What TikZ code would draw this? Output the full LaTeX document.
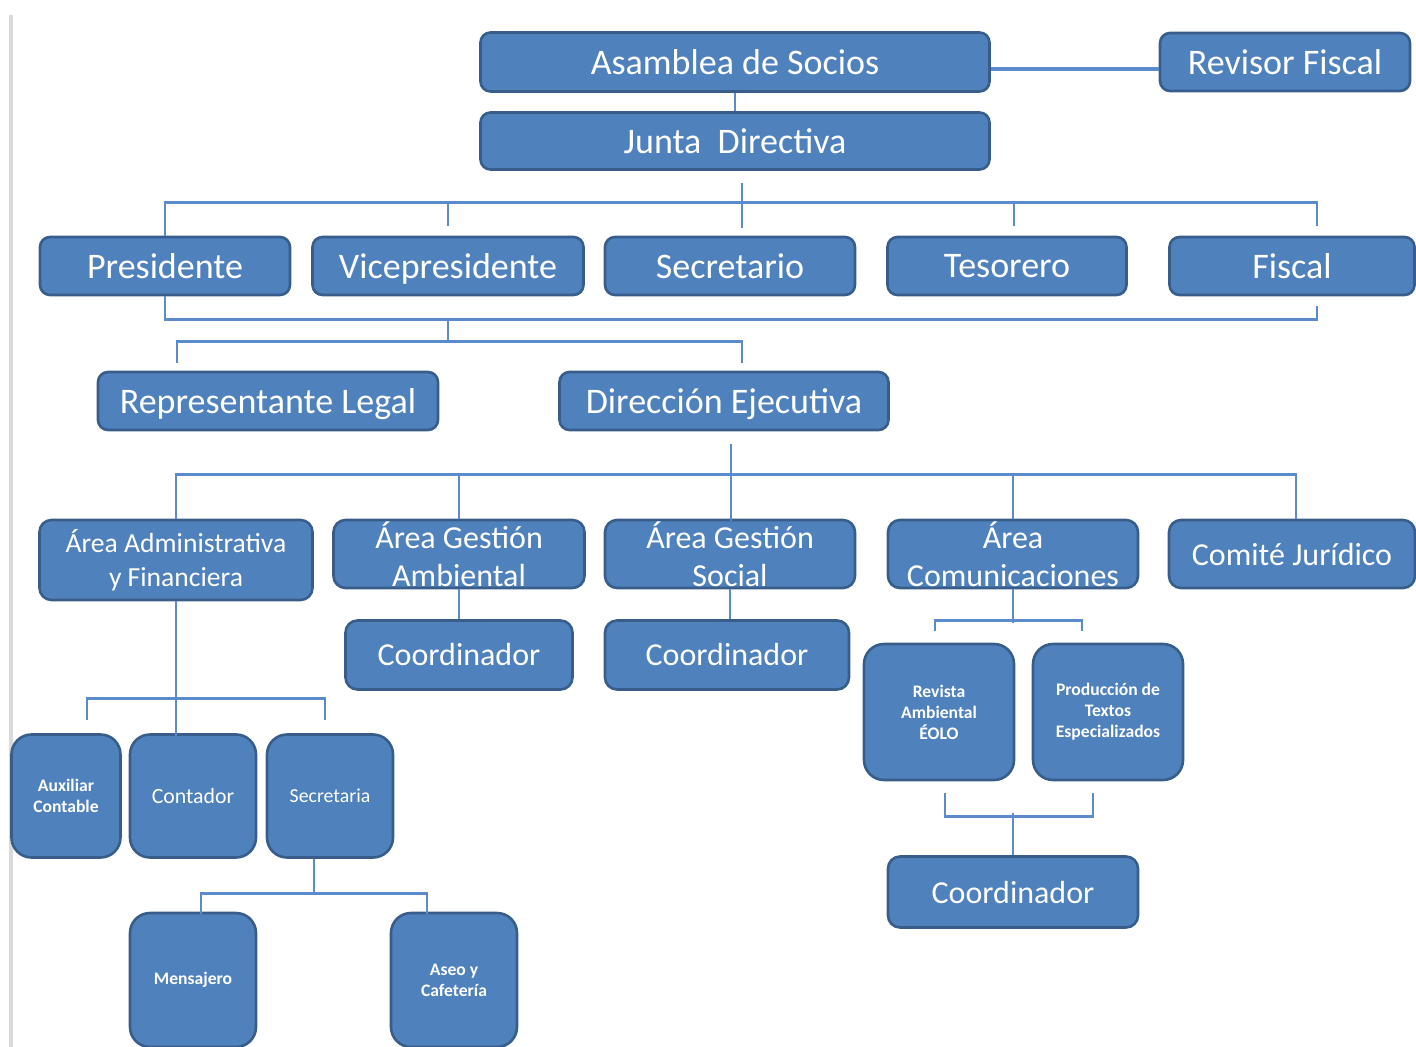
\documentclass[tikz,border=0pt]{standalone}
\usepackage{fontspec}
\setmainfont{Carlito}
\usepackage{xcolor}
\usepackage{tikz}
\usetikzlibrary{calc}

\definecolor{orgblue}{HTML}{4F81BD}
\definecolor{orgedge}{HTML}{385D8A}
\definecolor{linkblue}{HTML}{5B8BCA}

\tikzset{
  unit/.style={draw=orgedge, fill=orgblue, line width=1.3pt, rounded corners=5pt,
    text=white, inner sep=0pt, align=center, font=\fontsize{18}{21}\selectfont},
  flat/.style={text depth=0pt},
  areaunit/.style={unit, rounded corners=6pt, font=\fontsize{16}{19}\selectfont},
  smallunit/.style={unit, rounded corners=10pt, font=\bfseries\fontsize{8.8}{10.5}\selectfont},
  link/.style={draw=linkblue, line width=1.4pt},
}

\begin{document}
\begin{tikzpicture}[x=0.5pt, y=-0.5pt]
  \useasboundingbox (0,0) rectangle (1416,1047);
  % page edge
  \draw[black!15, line width=2pt] (11,15) -- (11,1047);

  % top
  \node[unit, minimum width=254.5pt, minimum height=29.5pt] (asamblea) at (735,62) {Asamblea de Socios};
  \node[unit, minimum width=125pt, minimum height=29pt] (revisor) at (1285,62) {Revisor Fiscal};
  \node[unit, flat, minimum width=254.5pt, minimum height=28.5pt] (junta) at (735,141) {Junta~~Directiva};

  % junta directiva
  \node[unit, minimum width=125pt, minimum height=29pt] (presidente) at (165,266) {Presidente};
  \node[unit, flat, minimum width=135.5pt, minimum height=29pt] (vice) at (448,266) {Vicepresidente};
  \node[unit, minimum width=125pt, minimum height=29pt] (secretario) at (730,266) {Secretario};
  \node[unit, minimum width=119.5pt, minimum height=29pt] (tesorero) at (1007,266) {Tesorero};
  \node[unit, minimum width=122.5pt, minimum height=29pt] (fiscal) at (1292,266) {Fiscal};

  \node[unit, flat, minimum width=170pt, minimum height=29pt] (replegal) at (268,401) {Representante Legal};
  \node[unit, flat, minimum width=164.5pt, minimum height=29pt] (direccion) at (724,401) {Dirección Ejecutiva};

  % areas
  \node[areaunit, minimum width=136.5pt, minimum height=40pt,
    font=\fontsize{13.8}{17}\selectfont] (admin) at (176,560) {Área Administrativa\\y Financiera};
  \node[areaunit, minimum width=125.5pt, minimum height=34pt] (gamb) at (459,554) {Área Gestión\\Ambiental};
  \node[areaunit, minimum width=125pt, minimum height=34pt] (gsoc) at (730,554) {Área Gestión\\Social};
  \node[areaunit, minimum width=125pt, minimum height=34pt] (comun) at (1013,554) {Área\\Comunicaciones};
  \node[areaunit, flat, minimum width=123pt, minimum height=34pt] (comite) at (1292,554) {Comité Jurídico};

  \node[areaunit, minimum width=113.5pt, minimum height=34.5pt] (coordA) at (459,655) {Coordinador};
  \node[areaunit, minimum width=122pt, minimum height=34.5pt] (coordS) at (727,655) {Coordinador};

  \node[smallunit, minimum width=75pt, minimum height=68pt] (revista) at (939,712) {Revista\\Ambiental\\ÉOLO};
  \node[smallunit, minimum width=75pt, minimum height=68pt] (textos) at (1108,712) {Producción de\\Textos\\Especializados};
  \node[areaunit, minimum width=125pt, minimum height=35.5pt] (coordC) at (1013,892) {Coordinador};

  \node[smallunit, minimum width=54.5pt, minimum height=61.5pt] (auxiliar) at (66,796) {Auxiliar\\Contable};
  \node[smallunit, minimum width=63pt, minimum height=61.5pt,
    font=\fontsize{10.9}{13}\selectfont] (contador) at (193,796) {Contador};
  \node[smallunit, minimum width=63pt, minimum height=61.5pt,
    font=\fontsize{9.9}{12}\selectfont] (secretaria) at (330,796) {Secretaria};
  \node[smallunit, minimum width=63pt, minimum height=67pt] (mensajero) at (193,980) {Mensajero};
  \node[smallunit, minimum width=63pt, minimum height=67pt] (aseo) at (454,980) {Aseo y\\Cafetería};

  % connectors
  \draw[link] (asamblea.south) -- (junta.north);
  \draw[link, line width=2.4pt] ([yshift=-3.5pt]asamblea.east) -- ([yshift=-3.5pt]revisor.west);
  \draw[link] ([shift={(7,12)}]junta.south) -- ++(0,45);
  \draw[link] (presidente.north) -- ++(0,-33) -- ++(1152,0) -- ++(0,23);
  \draw[link] ([yshift=5pt]vice.north) -- ++(0,-23);
  \draw[link] ([shift={(7,-10)}]tesorero.north) -- ++(0,-23);
  \draw[link] (presidente.south) -- ++(0,23) -- ++(1152,0) -- ++(0,-13);
  \draw[link] ([yshift=-11.5pt]vice.south) -- ++(0,22) -- ++(-271,0) -- ++(0,22);
  \draw[link] ([yshift=-11.5pt]vice.south) ++(0,22) -- ++(294,0) -- ++(0,22);

  \draw[link] ([shift={(7,13)}]direccion.south) -- ++(0,77);
  \draw[link] (admin.north) -- ++(0,-44) -- ++(1120,0) -- ++(0,44);
  \draw[link] (gamb.north) -- ++(0,-44);
  \draw[link] (comun.north) -- ++(0,-44);
  \draw[link] (gamb.south) -- (coordA.north);
  \draw[link] (gsoc.south) -- (gsoc.south |- coordS.north);

  \draw[link] (comun.south) -- ++(0,34);
  \draw[link] ([shift={(-4,-12)}]revista.north) -- ++(0,-10) -- ++(147,0) -- ++(0,10);
  \draw[link] ([shift={(6,12)}]revista.south) -- ++(0,23) -- ++(148,0) -- ++(0,-23);
  \draw[link] (coordC.north) -- ++(0,-42);

  \draw[link] (admin.south) -- ++(0,135);
  \draw[link] ([shift={(21,-13)}]auxiliar.north) -- ++(0,-22) -- ++(238,0) -- ++(0,22);
  \draw[link] ([xshift=-8pt]secretaria.south) -- ++(0,35) -- ++(-113,0) -- ++(0,20);
  \draw[link] ([xshift=-8pt]secretaria.south) ++(0,35) -- ++(113,0) -- ++(0,20);
\end{tikzpicture}
\end{document}
